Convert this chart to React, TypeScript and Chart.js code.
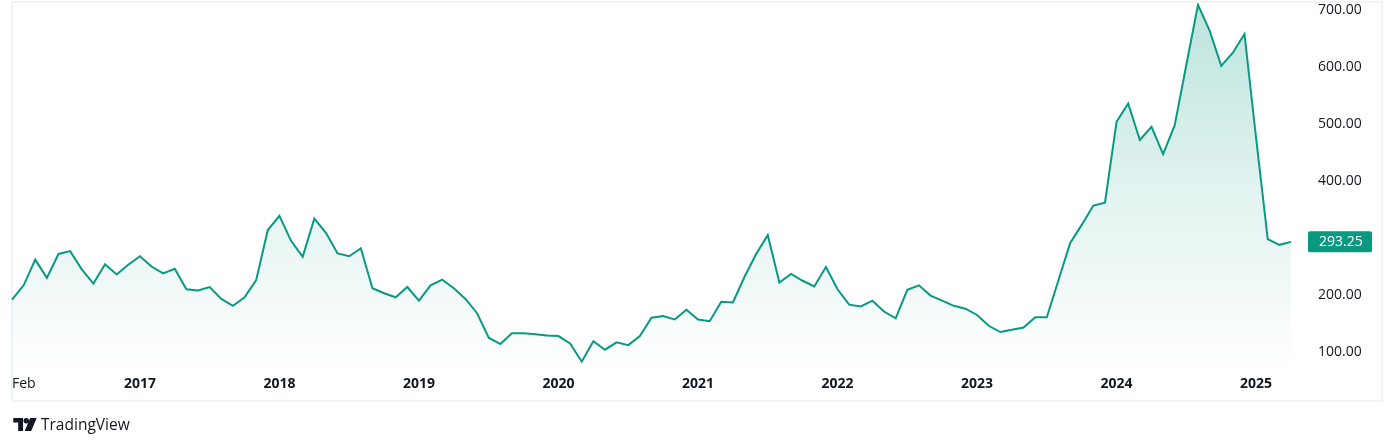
import React, { useEffect, useRef } from "react";
import { Chart, registerables } from "chart.js";

Chart.register(...registerables);

// Monthly closes, Feb 2016 .. Apr 2025
const startYear = 2016;
const startMonth = 2;
const values: number[] = [
  192, 217, 262, 230, 272, 277, 245, 220, 254, 236, 253, 268,
  250, 238, 246, 210, 208, 214, 193, 181, 196, 226, 314, 339,
  295, 267, 334, 309, 273, 268, 282, 212, 203, 196, 214, 190,
  217, 227, 212, 193, 168, 125, 114, 133, 133, 131, 129, 128,
  115, 83, 119, 104, 117, 112, 128, 160, 163, 157, 174, 157,
  154, 188, 187, 232, 272, 305, 222, 237, 225, 215, 249, 210,
  183, 180, 190, 171, 159, 209, 217, 199, 190, 181, 176, 165,
  146, 135, 139, 143, 161, 161, 226, 291, 323, 357, 362, 504,
  536, 472, 495, 447, 498, 604, 709, 664, 602, 625, 658, 475,
  298, 288, 293.25,
];

const months: string[] = values.map((_, i) => {
  const m = startMonth - 1 + i;
  const y = startYear + Math.floor(m / 12);
  const mm = (m % 12) + 1;
  return `${y}-${String(mm).padStart(2, "0")}`;
});

const xTickMonths = ["2016-02", "2017-01", "2018-01", "2019-01", "2020-01", "2021-01", "2022-01", "2023-01", "2024-01", "2025-01"];
const xTickLabels = ["Feb", "2017", "2018", "2019", "2020", "2021", "2022", "2023", "2024", "2025"];
const yTicks = [100, 200, 400, 500, 600, 700];
const yMin = 64.9;
const yMax = 712.3;

const GREEN = "#089981";
const TEXT = "#131722";
const FONT = "'Open Sans', 'Noto Sans', sans-serif";

const lastPricePlugin = {
  id: "lastPrice",
  afterDraw(chart: any) {
    const ys = chart.scales.y;
    const v = values[values.length - 1];
    const py = ys.getPixelForValue(v);
    const ctx = chart.ctx;
    ctx.save();
    ctx.fillStyle = GREEN;
    const x0 = ys.left + 17;
    ctx.beginPath();
    if (ctx.roundRect) ctx.roundRect(x0, py - 10.5, 64, 21, 2);
    else ctx.rect(x0, py - 10.5, 64, 21);
    ctx.fill();
    ctx.fillStyle = "#ffffff";
    ctx.font = `14px ${FONT}`;
    ctx.textBaseline = "middle";
    ctx.textAlign = "left";
    ctx.fillText(v.toFixed(2), ys.left + 28, py + 0.5);
    ctx.restore();
  },
};

export default function App() {
  const ref = useRef<HTMLCanvasElement | null>(null);
  useEffect(() => {
    if (!ref.current) return;
    const tickIdx = xTickMonths.map((m) => months.indexOf(m));
    const chart = new Chart(ref.current, {
      type: "line",
      data: {
        labels: months,
        datasets: [
          {
            data: values,
            borderColor: GREEN,
            borderWidth: 2,
            pointRadius: 0,
            tension: 0,
            fill: "start",
            backgroundColor: (c: any) => {
              const area = c.chart.chartArea;
              if (!area) return "rgba(8,153,129,0.1)";
              const g = c.chart.ctx.createLinearGradient(0, area.top, 0, area.bottom);
              g.addColorStop(0, "rgba(8,153,129,0.27)");
              g.addColorStop(0.5, "rgba(8,153,129,0.12)");
              g.addColorStop(1, "rgba(8,153,129,0.0)");
              return g;
            },
          },
        ],
      },
      options: {
        animation: false,
        responsive: false,
        layout: { padding: { left: 12, top: 3, right: 12, bottom: 45 } },
        plugins: { legend: { display: false }, tooltip: { enabled: false } },
        scales: {
          x: {
            type: "category",
            offset: false,
            grid: { display: false, drawTicks: false },
            border: { display: false },
            afterFit: (s: any) => {
              s.height = 29;
              s.paddingLeft = 0;
              s.paddingRight = 0;
            },
            afterBuildTicks: (s: any) => {
              const t = tickIdx.map((v) => ({ value: v }));
              t.push({ value: values.length - 1 });
              s.ticks = t;
            },
            ticks: {
              autoSkip: false,
              maxRotation: 0,
              padding: 4,
              align: "inner",
              color: TEXT,
              font: (c: any) => ({
                family: FONT,
                size: 14,
                weight: c.index === 0 ? "normal" : "bold",
              }),
              callback: (_v: any, i: number) => (i < xTickLabels.length ? xTickLabels[i] : ""),
            },
          },
          y: {
            position: "right",
            min: yMin,
            max: yMax,
            grid: { display: false, drawTicks: false },
            border: { display: false },
            afterFit: (s: any) => {
              s.width = 91;
              s.paddingTop = 0;
              s.paddingBottom = 0;
            },
            afterBuildTicks: (s: any) => {
              s.ticks = yTicks.map((v) => ({ value: v }));
            },
            ticks: {
              padding: 27,
              color: TEXT,
              font: { family: FONT, size: 14 },
              callback: (v: any) => Number(v).toFixed(2),
            },
          },
        },
      },
      plugins: [lastPricePlugin],
    } as any);
    return () => chart.destroy();
  }, []);

  return (
    <div style={{ position: "absolute", left: 0, top: 0, width: 1394, height: 446, background: "#ffffff" }}>
      <div
        style={{
          position: "absolute",
          left: 11,
          top: 1,
          width: 1372,
          height: 401,
          boxSizing: "border-box",
          border: "2px solid #f0f3f6",
        }}
      />
      <canvas ref={ref} width={1394} height={446} style={{ position: "absolute", left: 0, top: 0, width: 1394, height: 446 }} />
      <div
        style={{
          position: "absolute",
          left: 13,
          top: 414,
          height: 20,
          display: "flex",
          alignItems: "center",
          fontFamily: FONT,
          fontSize: 15.5,
          color: TEXT,
          lineHeight: "20px",
        }}
      >
        <svg width="24" height="13" viewBox="0 0 36 20" style={{ marginRight: 4 }}>
          <path d="M0 0h15v20H7.5V7H0z" fill={TEXT} />
          <circle cx="20" cy="4.2" r="4.2" fill={TEXT} />
          <path d="M17.5 20L26 0h10l-8.5 20z" fill={TEXT} />
        </svg>
        <span>TradingView</span>
      </div>
    </div>
  );
}
